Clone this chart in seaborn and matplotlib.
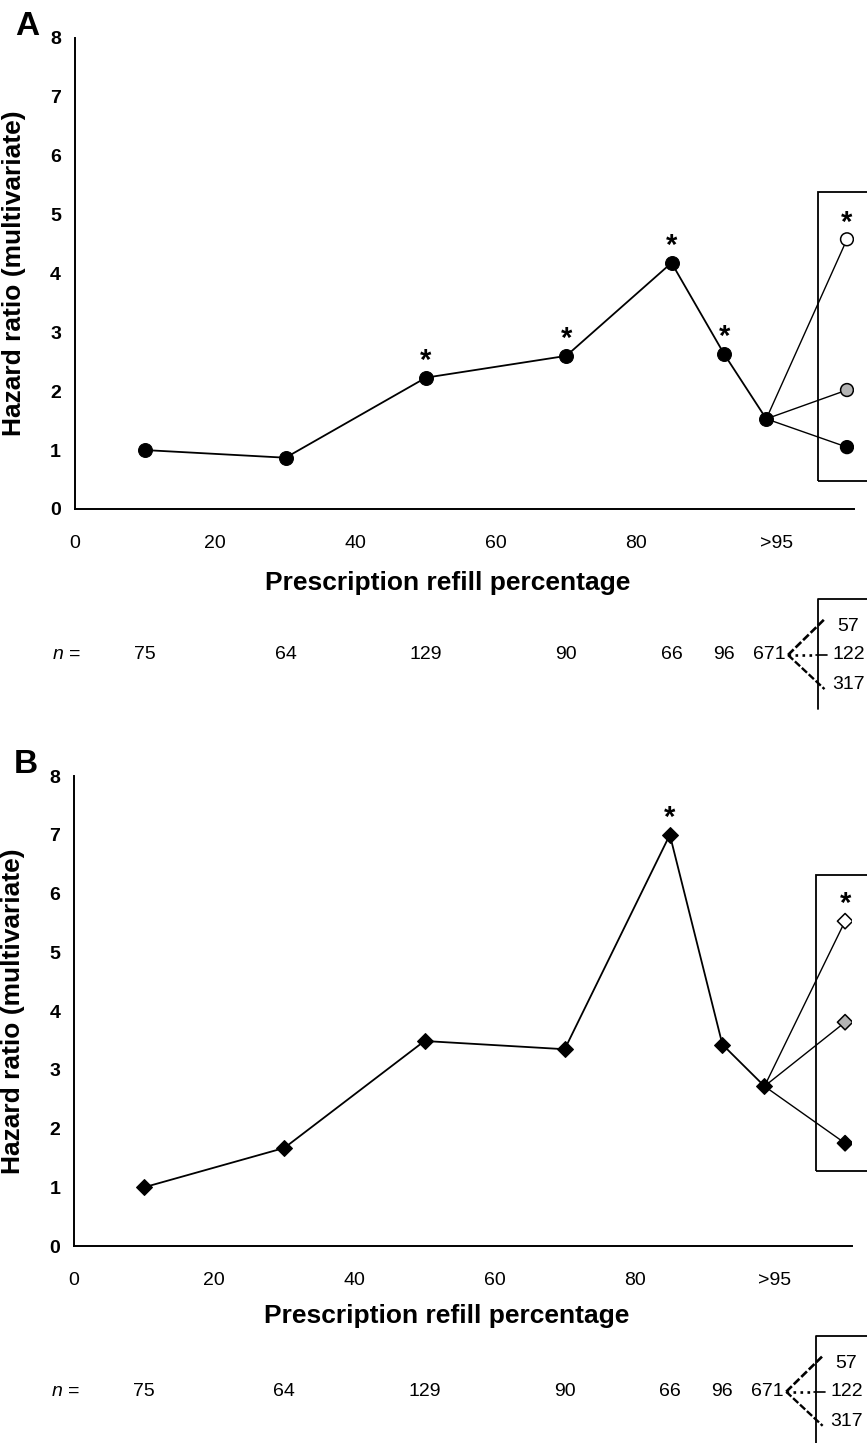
import numpy as np
import pandas as pd
import matplotlib
matplotlib.use('Agg')
import matplotlib.pyplot as plt
from matplotlib.patches import Rectangle
import seaborn as sns

# refill categories (x position on the percentage axis)
refill_x = [10, 30, 50, 70, 85, 92.5, 98.5]
branch_x = 110
xtick_vals = [0, 20, 40, 60, 80, 100]
xtick_labels = ['0', '20', '40', '60', '80', '>95']

# panel A: hazard ratios (circles)
hr_a = [1.0, 0.87, 2.23, 2.6, 4.18, 2.63, 1.53]
sig_a = [False, False, True, True, True, True, False]
branch_hr_a = [4.58, 2.02, 1.05]
# panel B: hazard ratios (diamonds)
hr_b = [1.0, 1.67, 3.49, 3.35, 7.0, 3.43, 2.72]
sig_b = [False, False, False, False, True, False, False]
branch_hr_b = [5.53, 3.81, 1.75]

branch_names = ['top', 'mid', 'low']
branch_sig = [True, False, False]
branch_faces = {'top': 'white', 'mid': '#b4b4b4', 'low': 'black'}

n_counts = ['75', '64', '129', '90', '66', '96', '671']
branch_n = ['57', '122', '317']

sns.set_style('white')
plt.rcParams['font.family'] = ['Liberation Sans', 'DejaVu Sans']
plt.rcParams['mathtext.fontset'] = 'custom'
plt.rcParams['mathtext.it'] = 'Liberation Sans:italic'
plt.rcParams['mathtext.rm'] = 'Liberation Sans'
for key in ['text.color', 'axes.labelcolor', 'xtick.color', 'ytick.color']:
    plt.rcParams[key] = 'black'

fig = plt.figure(figsize=(8.67, 14.43), dpi=100)


def draw_panel(ax, hr, sig, branch_hr, marker, msize, letter, xlab_y, box):
    main = pd.DataFrame({'x': refill_x, 'hr': hr})
    sns.lineplot(data=main, x='x', y='hr', color='black', lw=1.3, marker=marker,
                 markersize=msize, markeredgecolor='black', markerfacecolor='black',
                 ax=ax, zorder=3)

    # three sub-groups fanning out from the last category
    rows = []
    for name, val in zip(branch_names, branch_hr):
        rows.append({'branch': name, 'x': refill_x[-1], 'hr': hr[-1]})
        rows.append({'branch': name, 'x': branch_x, 'hr': val})
    br = pd.DataFrame(rows)
    sns.lineplot(data=br, x='x', y='hr', units='branch', estimator=None,
                 color='black', lw=1.0, ax=ax, zorder=2)
    ends = br[br['x'] == branch_x]
    sns.scatterplot(data=ends, x='x', y='hr', hue='branch', palette=branch_faces,
                    marker=marker, s=(msize * 0.92) ** 2, edgecolor='black',
                    linewidth=1.1, legend=False, ax=ax, zorder=4)

    # significance stars
    for xv, yv, s in zip(refill_x + [branch_x] * 3, hr + branch_hr, sig + branch_sig):
        if s:
            ax.annotate('*', (xv, yv), xytext=(0, 2), textcoords='offset points',
                        ha='center', va='bottom', fontsize=21, fontweight='bold')

    # grouping box round the sub-groups
    ax.add_patch(Rectangle((box[0], box[1]), 12, box[2] - box[1], fill=False,
                           edgecolor='black', lw=1.3, clip_on=False))

    ax.set_xlim(0, 111)
    ax.set_ylim(0, 8)
    ax.set_xticks(xtick_vals)
    ax.set_xticklabels(xtick_labels)
    ax.set_yticks(range(0, 9))
    sns.despine(ax=ax)
    for sp in ['left', 'bottom']:
        ax.spines[sp].set_color('black')
        ax.spines[sp].set_linewidth(1.4)
    ax.tick_params(axis='x', direction='out', length=5, width=1.1, pad=14,
                   labelsize=14, color='black')
    ax.tick_params(axis='y', direction='out', length=4, width=1.1, pad=6,
                   labelsize=14, color='black')
    for t in ax.get_yticklabels():
        t.set_fontweight('bold')
    ax.set_xlabel('Prescription refill percentage', fontsize=19, fontweight='bold')
    ax.xaxis.set_label_coords(0.479, xlab_y)
    ax.set_ylabel('Hazard ratio (multivariate)', fontsize=19, fontweight='bold')
    ax.yaxis.set_label_coords(-0.063, 0.5)
    ax.text(-0.077, 1.025, letter, transform=ax.transAxes, fontsize=24,
            fontweight='bold', ha='left', va='center')

    # sample sizes under the axis
    n_y = -2.48
    ax.text(-3.3, n_y, r'$\it{n}$ =', fontsize=14, ha='left', va='center', clip_on=False)
    for xv, lab in zip(refill_x[:-1], n_counts[:-1]):
        ax.text(xv, n_y, lab, fontsize=14, ha='center', va='center', clip_on=False)
    fork_x = 101.6
    ax.text(fork_x - 0.3, n_y, n_counts[-1], fontsize=14, ha='right', va='center',
            clip_on=False)
    for lab, dy in zip(branch_n, [0.48, 0.0, -0.5]):
        ax.text(branch_x + 0.2, n_y + dy, lab, fontsize=14, ha='center', va='center',
                clip_on=False)
    ax.plot([fork_x, 106.9], [n_y, n_y + 0.62], color='black', lw=1.9,
            ls=(0, (3, 1)), clip_on=False)
    ax.plot([fork_x, 105.6], [n_y, n_y], color='black', lw=1.9, ls=':', clip_on=False)
    ax.plot([105.6, 107.2], [n_y, n_y], color='black', lw=1.2, clip_on=False)
    ax.plot([fork_x, 106.8], [n_y, n_y - 0.58], color='black', lw=1.7,
            ls=(0, (3, 1)), clip_on=False)
    ax.plot([105.8, 105.8, 115], [-3.4, -1.53, -1.53], color='black', lw=1.3,
            clip_on=False)


ax_a = fig.add_axes([0.0865, 0.6473, 0.8985, 0.3264])
draw_panel(ax_a, hr_a, sig_a, branch_hr_a, 'o', 10, 'A', -0.132, (105.8, 0.48, 5.38))

ax_b = fig.add_axes([0.0854, 0.1365, 0.8974, 0.3257])
draw_panel(ax_b, hr_b, sig_b, branch_hr_b, 'D', 8.5, 'B', -0.124, (105.8, 1.28, 6.31))

fig.savefig('out.png', dpi=100)
